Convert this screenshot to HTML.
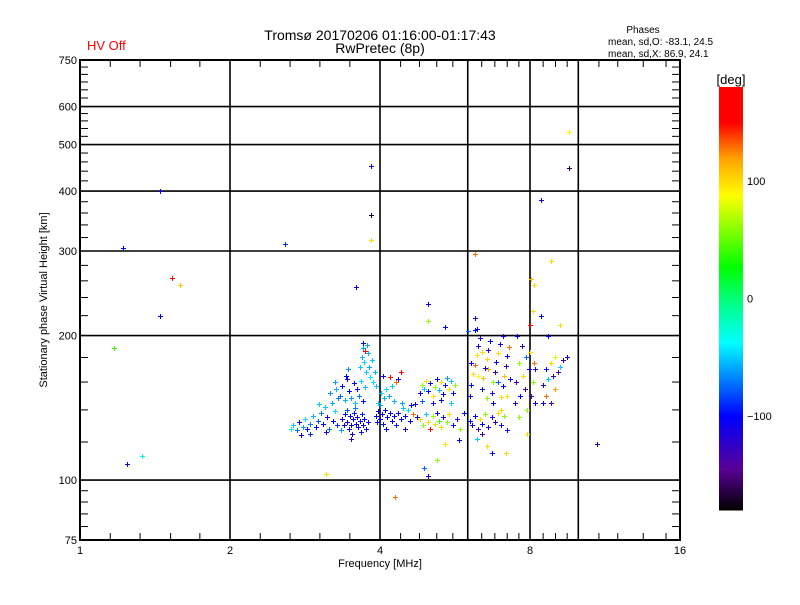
<!DOCTYPE html>
<html><head><meta charset="utf-8"><style>
body{margin:0;background:#fff;}
svg text{font-family:"Liberation Sans",sans-serif;}
</style></head><body>
<svg id="chart" width="800" height="600" viewBox="0 0 800 600" xmlns="http://www.w3.org/2000/svg">
<rect width="800" height="600" fill="#fff"/>
<text x="87" y="50" font-size="13" fill="#f00">HV Off</text>
<text x="380" y="40" font-size="14" text-anchor="middle">Tromsø 20170206 01:16:00-01:17:43</text>
<text x="380" y="53" font-size="14" text-anchor="middle">RwPretec (8p)</text>
<text x="643" y="33" font-size="10" text-anchor="middle">Phases</text>
<text x="608" y="45" font-size="10">mean, sd,O: -83.1, 24.5</text>
<text x="608" y="57" font-size="10">mean, sd,X:  86.9, 24.1</text>
<g id="grid"></g>
<g id="marks" shape-rendering="crispEdges"></g>
<rect x="80" y="60" width="600" height="480" fill="none" stroke="#000" stroke-width="2"/>
<g id="axes"></g>
<text x="380" y="567" font-size="11" text-anchor="middle">Frequency [MHz]</text>
<text transform="translate(47,300) rotate(-90)" font-size="11" text-anchor="middle">Stationary phase Virtual Height [km]</text>
<g id="cbar"></g>
<text x="731" y="84" font-size="13" text-anchor="middle">[deg]</text>
</svg>
<script>
const xTicks=[1,2,4,8,16];
const xGrid=[2,4,6,8,10];
const xMinor=[1.15,1.32,1.52,1.74,2.3,2.64,3.03,3.48,4.4,4.8,5.2,5.6,6.4,6.8,7.2,7.6,8.5,9,9.5,11,12,13.5,15];
const yTicks=[75,100,200,300,400,500,600,750];
const yGrid=[100,200,300,400,500,600];
const yMinor=[80,85,90,95,120,140,160,180,220,240,260,280,320,340,360,380,420,440,460,480,520,540,560,580,625,650,675,700,725];
const cbTicks=[100,0,-100];
const freqs=[1.17,1.22,1.45,1.53,1.59,1.45,1.24,1.33,2.58,3.58,3.83,3.83,3.83,3.11,4.29,9.6,9.6,8.4,10.9,6.2,8.8,4.99,5.4,6.2,6.25,5.0,6.0,
2.68,2.72,2.75,2.8,2.83,2.86,2.9,2.93,2.97,3.0,2.78,2.9,2.65,
3.05,3.08,3.1,3.13,3.16,3.2,3.22,3.25,3.28,3.3,3.02,3.18,3.26,3.12,
3.35,3.38,3.4,3.43,3.46,3.48,3.5,3.53,3.55,3.58,3.6,3.62,3.65,3.68,3.7,3.72,3.75,3.78,3.44,3.57,3.66,3.34,3.52,3.5,
3.32,3.36,3.4,3.44,3.47,3.5,3.54,3.57,3.6,3.63,3.67,3.7,3.74,3.25,3.45,3.42,
3.65,3.68,3.7,3.72,3.75,3.78,3.8,3.82,3.85,3.88,3.9,3.93,3.7,3.74,3.76,
3.92,3.95,3.97,4.0,4.03,4.06,4.1,4.14,4.18,4.22,4.26,4.3,4.0,4.12,3.96,
4.02,4.07,4.12,4.17,4.22,4.27,4.05,4.3,4.18,4.35,4.4,
4.35,4.4,4.45,4.5,4.55,4.6,4.65,4.7,4.75,4.42,4.62,4.5,
4.82,4.86,4.9,4.95,5.0,5.05,5.1,5.15,5.2,5.25,5.3,5.35,5.4,5.45,5.5,5.55,5.6,5.65,5.1,5.3,5.55,4.85,
4.82,4.88,4.95,5.0,5.05,5.1,5.15,5.2,5.25,5.3,5.35,5.45,5.5,5.6,5.7,5.8,5.9,5.75,5.4,5.2,4.9,5.0,
6.05,6.1,6.15,6.2,6.25,6.3,6.35,6.4,6.45,6.5,6.55,6.6,6.65,6.7,6.75,6.8,6.85,6.9,6.95,7.0,7.05,7.1,7.15,7.2,7.25,7.05,6.2,6.4,6.6,6.3,6.08,6.55,6.75,7.0,6.9,7.2,7.3,
6.05,6.12,6.2,6.28,6.35,6.42,6.5,6.6,6.7,6.8,6.9,7.0,7.1,7.2,6.25,6.55,6.4,7.15,6.7,
7.45,7.5,7.6,7.65,7.7,7.75,7.8,7.85,7.9,7.95,8.0,8.05,8.1,8.15,8.2,7.55,8.0,8.1,8.2,7.6,7.9,8.15,8.05,
8.5,8.6,8.7,8.8,8.9,9.0,9.1,9.2,9.3,9.5,8.6,8.8,9.0,9.2,8.4,8.7,8.5];
const heights=[188,304,400,264,255,220,108,112,310,252,450,357,316,103,92,530,446,384,119,296,286,233,208,218,206,214,204,
130,127,132,129,134,128,131,136,129,133,124,125,128,
138,131,142,135,128,145,133,139,130,148,144,152,155,126,
134,130,137,132,128,136,130,134,138,131,135,129,133,137,130,134,128,132,140,141,126,127,125,122,
150,157,147,162,153,148,159,145,155,150,161,146,156,160,170,165,
172,180,188,176,168,184,172,164,178,160,168,157,193,186,191,
136,132,139,134,137,131,140,135,138,133,136,130,143,128,145,
152,148,155,150,157,146,165,160,164,162,168,
138,134,141,136,140,133,137,144,135,145,143,128,
152,158,155,161,153,159,150,156,162,154,160,151,158,163,155,161,152,158,145,147,145,146,
134,130,137,132,128,136,131,138,133,129,135,132,137,130,134,128,138,121,119,110,106,102,
150,158,166,174,182,190,198,155,163,171,179,187,195,152,160,168,176,184,192,149,157,165,173,181,189,200,205,185,170,165,175,148,145,140,160,150,162,
133,130,136,128,134,131,137,129,135,132,138,130,136,127,122,118,125,114,114,
145,160,175,150,190,165,155,180,140,170,185,150,160,175,145,200,210,225,170,135,125,255,262,
158,170,162,175,165,180,168,172,178,180,150,145,155,210,220,200,145];
const phases=[40,-100,-105,150,110,-100,-115,-40,-90,-110,-110,-170,100,100,130,90,-165,-110,-120,130,100,-110,-100,-120,-100,60,-75,
-50,-75,-100,-60,-45,-100,-70,-55,-100,-80,-110,-90,-40,
-70,-100,-50,-110,-75,-60,-100,-45,-90,-70,-50,-65,-55,-110,
-105,-110,-100,-105,-110,-100,-105,-110,-95,-105,-110,-100,-105,-95,-110,-100,-105,-110,-80,-70,-95,-60,-110,-130,
-75,-100,-55,-110,-100,-60,-105,-50,-100,-70,-45,-100,-55,-60,-65,-100,
-50,-55,-60,-45,-50,-55,-60,-40,-50,-45,-55,-50,-110,170,-60,
-100,-105,-110,-100,-105,-95,-100,-110,-100,-105,-100,-95,-60,-100,-50,
-50,-55,-45,-60,-50,-55,-110,130,150,-100,170,
-100,-105,-50,-100,-45,-100,130,-100,-110,-60,-100,-110,
-100,60,-50,100,-100,-110,100,60,-100,-50,100,-100,-110,-60,100,-50,-100,60,-110,-100,-50,-75,
100,60,-50,100,170,60,100,-100,40,100,-110,60,100,-100,-110,60,-100,-100,100,60,-75,-110,
-110,-100,100,130,100,-110,-120,-100,110,-105,100,-120,-100,-110,60,-130,-100,100,-110,100,-100,110,-130,-100,130,-105,-100,100,120,90,-100,60,-100,100,-75,100,-110,
-100,-110,-105,-130,100,-100,60,-110,-105,-120,100,-110,60,-100,-50,100,-140,100,-100,
-110,-130,60,-100,-120,100,-140,-75,60,-110,100,-130,60,130,-110,-100,170,100,-120,60,100,100,110,
-110,-100,-50,100,-120,80,-140,-50,-130,-110,130,-140,120,100,-100,-100,-100];

const NS='http://www.w3.org/2000/svg';
const X0=80,PX_OCT=150,Y0=540,PX_DEC=480;
function xs(f){return X0+Math.log2(f)*PX_OCT;}
function ys(h){return Y0-Math.log10(h/75)*PX_DEC;}
const CB_TOP=87,CB_BOT=510,CB_MIN=-180,CB_MAX=180;
function cy(v){return CB_BOT-(v-CB_MIN)/(CB_MAX-CB_MIN)*(CB_BOT-CB_TOP);}
const stops=[[-180,0,0,0],[-145,90,0,150],[-100,0,0,255],[-37,0,255,255],[0,0,255,120],[27,0,255,0],[88,255,255,0],[120,255,160,0],[150,255,0,0],[180,255,0,0]];
function color(v){
  for(let i=1;i<stops.length;i++){
    if(v<=stops[i][0]){const a=stops[i-1],b=stops[i];const t=(v-a[0])/(b[0]-a[0]);
      return 'rgb('+[1,2,3].map(k=>Math.round(a[k]+(b[k]-a[k])*t)).join(',')+')';}
  }
  return 'rgb(255,0,0)';
}
function mk(tag,attrs,parent){const e=document.createElementNS(NS,tag);for(const k in attrs)e.setAttribute(k,attrs[k]);parent.appendChild(e);return e;}
const grid=document.getElementById('grid'),axes=document.getElementById('axes'),marks=document.getElementById('marks'),cbar=document.getElementById('cbar');
xGrid.forEach(f=>{const l=mk('line',{x1:xs(f),x2:xs(f),y1:60,y2:540,stroke:'#000','stroke-width':1.6},grid);

});
yGrid.forEach(h=>{const l=mk('line',{x1:80,x2:680,y1:ys(h),y2:ys(h),stroke:'#000','stroke-width':1.6},grid);

});
xMinor.forEach(f=>{const x=xs(f);
  mk('line',{x1:x,x2:x,y1:540,y2:533,stroke:'#000'},axes);mk('line',{x1:x,x2:x,y1:60,y2:67,stroke:'#000'},axes);});
yMinor.forEach(h=>{const y=ys(h);
  mk('line',{x1:80,x2:88,y1:y,y2:y,stroke:'#000'},axes);mk('line',{x1:672,x2:680,y1:y,y2:y,stroke:'#000'},axes);});
xTicks.forEach(f=>{const t=mk('text',{x:xs(f),y:554,'font-size':11,'text-anchor':'middle'},axes);t.textContent=f;

});
yTicks.forEach(h=>{const t=mk('text',{x:77,y:ys(h)+4,'font-size':11,'text-anchor':'end'},axes);t.textContent=h;

});
for(let i=0;i<freqs.length;i++){
  const x=Math.round(xs(freqs[i])),y=Math.round(ys(heights[i])),c=color(phases[i]);
  const p=mk('path',{d:`M${x-2},${y}h5v1h-5zM${x},${y-2}h1v5h-1z`,fill:c,stroke:'none'},marks);
  
  
}
for(let v=CB_MIN;v<CB_MAX;v+=2){
  mk('rect',{x:719,y:cy(v+2),width:24,height:(CB_BOT-CB_TOP)/180+0.5,fill:color(v+1)},cbar);
}
cbTicks.forEach(v=>{const t=mk('text',{x:747,y:cy(v)+4,'font-size':11},cbar);t.textContent=v===-100?'\u2212100':v;

});
</script>
</body></html>
